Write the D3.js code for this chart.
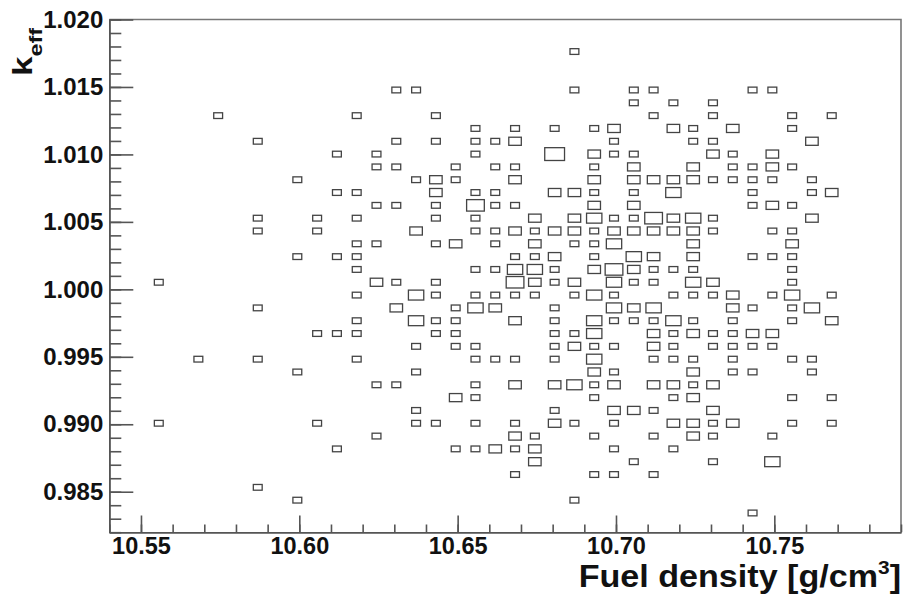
<!DOCTYPE html>
<html>
<head>
<meta charset="utf-8">
<script src="https://cdn.jsdelivr.net/npm/d3@7"></script>
<style>
  body { margin: 0; background: #fff; }
  text { font-family: "Liberation Sans", Arial, sans-serif; font-weight: bold; fill: #111; }
</style>
</head>
<body>
<div id="chart"></div>
<script>
// histogram definition (40 x 40 bins)
const densityRange = [10.54, 10.79];
const keffRange = [0.982, 1.020];
const nBinsX = 40, nBinsY = 40;

const xTickValues = [10.55, 10.60, 10.65, 10.70, 10.75];
const yTickValues = [0.985, 0.990, 0.995, 1.000, 1.005, 1.010, 1.015, 1.020];

// filled cells: one entry per keff bin row, density bin indices + bin contents
const keffBins = [37, 34, 33, 32, 31, 30, 29, 28, 27, 26, 25, 24, 23, 22, 21, 20, 19, 18, 17, 16, 15, 14, 13, 12, 11, 10, 9, 8, 7, 6, 5, 4, 3, 2, 1];
const densityBins = [
  [23],
  [14, 15, 23, 26, 27, 32, 33],
  [26, 28, 30],
  [5, 12, 16, 27, 30, 34, 36],
  [18, 20, 22, 24, 25, 28, 29, 31, 34],
  [7, 14, 16, 18, 19, 20, 25, 29, 30, 35],
  [11, 13, 18, 22, 24, 25, 26, 30, 31, 33],
  [13, 14, 17, 19, 20, 24, 26, 29, 31, 32, 33, 34],
  [9, 15, 16, 17, 20, 24, 26, 27, 28, 29, 30, 31, 32, 33, 35],
  [11, 12, 16, 18, 19, 22, 23, 24, 26, 28, 32, 35, 36],
  [13, 14, 16, 18, 19, 20, 24, 26, 32, 33, 34],
  [7, 10, 12, 16, 18, 21, 23, 24, 25, 26, 27, 28, 29, 30, 35],
  [7, 10, 15, 18, 19, 20, 21, 22, 23, 24, 25, 26, 27, 28, 29, 30, 33, 34],
  [12, 13, 16, 17, 19, 21, 23, 24, 25, 29, 34],
  [9, 11, 12, 20, 21, 22, 24, 26, 27, 29, 32, 33, 34],
  [12, 18, 19, 20, 21, 22, 24, 25, 26, 27, 28, 29, 34],
  [2, 13, 14, 16, 20, 21, 22, 23, 25, 26, 27, 29, 30, 34],
  [12, 15, 16, 18, 19, 20, 21, 23, 24, 25, 28, 29, 30, 31, 33, 34, 36],
  [7, 14, 17, 18, 19, 22, 25, 26, 27, 31, 32, 34, 35],
  [12, 15, 16, 17, 20, 22, 24, 25, 26, 27, 28, 29, 31, 34, 36],
  [10, 11, 12, 16, 17, 22, 23, 24, 27, 28, 29, 30, 31, 32, 33],
  [15, 17, 18, 22, 23, 24, 25, 27, 28, 30, 31, 32, 33],
  [4, 7, 12, 18, 19, 20, 22, 24, 27, 28, 29, 31, 34, 35],
  [9, 15, 24, 25, 29, 31, 32, 35],
  [13, 14, 18, 20, 22, 23, 24, 25, 27, 28, 29, 30],
  [17, 18, 24, 28, 29, 34, 36],
  [15, 22, 25, 26, 27, 30],
  [2, 10, 15, 16, 18, 20, 22, 23, 25, 28, 29, 30, 31, 34, 36],
  [13, 20, 21, 24, 27, 29, 30, 33],
  [11, 17, 18, 19, 20, 21, 25, 28],
  [21, 26, 30, 33],
  [20, 24, 25, 27],
  [7],
  [9, 23],
  [32]
];
const binCounts = [
  [1],
  [1, 1, 1, 1, 1, 1, 1],
  [1, 1, 1],
  [1, 1, 1, 1, 1, 1, 1],
  [1, 1, 1, 1, 2, 2, 1, 2, 1],
  [1, 1, 1, 1, 1, 2, 1, 1, 1, 2],
  [1, 1, 1, 5, 2, 1, 1, 2, 1, 2],
  [1, 1, 1, 1, 1, 1, 2, 2, 1, 1, 2, 1],
  [1, 1, 2, 1, 2, 2, 2, 2, 2, 2, 1, 1, 1, 1, 1],
  [1, 1, 2, 1, 1, 2, 2, 1, 1, 3, 1, 1, 2],
  [1, 1, 1, 4, 1, 1, 2, 2, 1, 2, 1],
  [1, 1, 1, 1, 1, 2, 2, 3, 1, 1, 4, 2, 3, 1, 2],
  [1, 1, 2, 1, 1, 2, 1, 2, 2, 1, 2, 2, 2, 2, 2, 1, 1, 1],
  [1, 1, 1, 2, 1, 2, 1, 1, 3, 2, 2],
  [1, 1, 1, 1, 1, 2, 1, 3, 2, 2, 1, 1, 1],
  [1, 1, 1, 3, 3, 1, 2, 4, 2, 1, 1, 1, 1],
  [1, 2, 1, 1, 4, 2, 1, 2, 3, 1, 1, 3, 2, 1],
  [1, 3, 1, 1, 1, 1, 1, 1, 3, 1, 1, 1, 1, 2, 1, 3, 1],
  [1, 2, 1, 3, 2, 1, 3, 2, 3, 2, 1, 1, 3],
  [1, 3, 1, 1, 2, 1, 3, 1, 1, 1, 3, 1, 1, 1, 2],
  [1, 1, 1, 1, 1, 1, 1, 3, 2, 1, 2, 1, 1, 2, 2],
  [1, 1, 1, 1, 2, 1, 1, 2, 1, 1, 1, 1, 1],
  [1, 1, 1, 1, 1, 1, 1, 3, 1, 1, 1, 1, 1, 1],
  [1, 1, 2, 1, 2, 1, 1, 1],
  [1, 1, 1, 2, 2, 3, 1, 2, 2, 2, 1, 2],
  [2, 1, 1, 1, 2, 1, 1],
  [1, 1, 2, 2, 1, 2],
  [1, 1, 1, 1, 1, 1, 2, 1, 1, 2, 2, 1, 2, 1, 1],
  [1, 2, 1, 1, 1, 2, 1, 1],
  [1, 1, 1, 2, 1, 2, 1, 1],
  [2, 1, 1, 3],
  [1, 1, 1, 1],
  [1],
  [1, 1],
  [1]
];

const width = 905, height = 595;
const frame = {left: 109.3, right: 901, top: 19.5, bottom: 532.2};

const svg = d3.select("#chart").append("svg")
    .attr("width", width)
    .attr("height", height);

const x = d3.scaleLinear().domain(densityRange).range([frame.left, frame.right]);
const y = d3.scaleLinear().domain(keffRange).range([frame.bottom, frame.top]);

const dxBin = (densityRange[1] - densityRange[0]) / nBinsX;
const dyBin = (keffRange[1] - keffRange[0]) / nBinsY;
const binW = x(densityRange[0] + dxBin) - x(densityRange[0]);
const binH = y(keffRange[0]) - y(keffRange[0] + dyBin);

// box side ~ sqrt(content / max), like ROOT's BOX option
const maxCount = d3.max(binCounts.flat());
const side = d3.scaleSqrt().domain([0, maxCount]).range([0, 1]);

const cells = keffBins.flatMap((j, r) =>
  densityBins[r].map((i, k) => ({i: i, j: j, n: binCounts[r][k]})));

svg.append("g")
  .selectAll("rect")
  .data(cells)
  .join("rect")
    .attr("x", d => x(densityRange[0] + (d.i + 0.5) * dxBin) - binW * side(d.n) / 2)
    .attr("y", d => y(keffRange[0] + (d.j + 0.5) * dyBin) - binH * side(d.n) / 2)
    .attr("width", d => binW * side(d.n))
    .attr("height", d => binH * side(d.n))
    .attr("fill", "none")
    .attr("stroke", "#444")
    .attr("stroke-width", 1.3);

// frame top/right
svg.append("path")
    .attr("d", `M${frame.left},${frame.top}H${frame.right}V${frame.bottom}`)
    .attr("fill", "none")
    .attr("stroke", "#777")
    .attr("stroke-width", 1.6);

// minor ticks every 0.01 / 0.001
const xMinor = d3.range(0, 26).map(k => 10.54 + k * 0.01);
const yMinor = d3.range(0, 39).map(k => 0.982 + k * 0.001);

const gx = svg.append("g").attr("transform", `translate(0,${frame.bottom})`);
gx.append("g")
    .call(d3.axisBottom(x).tickValues(xMinor).tickSize(-7.7).tickSizeOuter(0).tickFormat(""));
gx.append("g")
    .call(d3.axisBottom(x).tickValues(xTickValues).tickSize(-16.7).tickSizeOuter(0)
      .tickPadding(5).tickFormat(d3.format(".2f")))
    .call(g => g.selectAll("text").attr("font-size", 23.5));

const gy = svg.append("g").attr("transform", `translate(${frame.left},0)`);
gy.append("g")
    .call(d3.axisLeft(y).tickValues(yMinor).tickSize(-12).tickSizeOuter(0).tickFormat(""));
gy.append("g")
    .call(d3.axisLeft(y).tickValues(yTickValues).tickSize(-24).tickSizeOuter(0)
      .tickPadding(6).tickFormat(d3.format(".3f")))
    .call(g => g.selectAll("text").attr("font-size", 24));

svg.selectAll(".domain").attr("stroke", "#555").attr("stroke-width", 1.6);
svg.selectAll(".tick line").attr("stroke", "#555").attr("stroke-width", 1.6);
svg.selectAll(".tick text").attr("fill", "#111").attr("font-family", null);

// axis titles (ROOT glyphs are a bit wider than Liberation Sans)
const xt = svg.append("text")
    .attr("transform", `translate(${frame.right},587) scale(1.1,1)`)
    .attr("text-anchor", "end")
    .attr("font-size", 31);
xt.append("tspan").text("Fuel density [g/cm");
xt.append("tspan").attr("font-size", 19).attr("dy", -13).text("3");
xt.append("tspan").attr("dy", 13).text("]");

const yt = svg.append("text")
    .attr("transform", "translate(32,76) rotate(-90) scale(1.3,1)")
    .attr("text-anchor", "start")
    .attr("font-size", 27);
yt.append("tspan").text("k");
yt.append("tspan").attr("font-size", 18).attr("dy", 10).text("eff");
</script>
</body>
</html>
